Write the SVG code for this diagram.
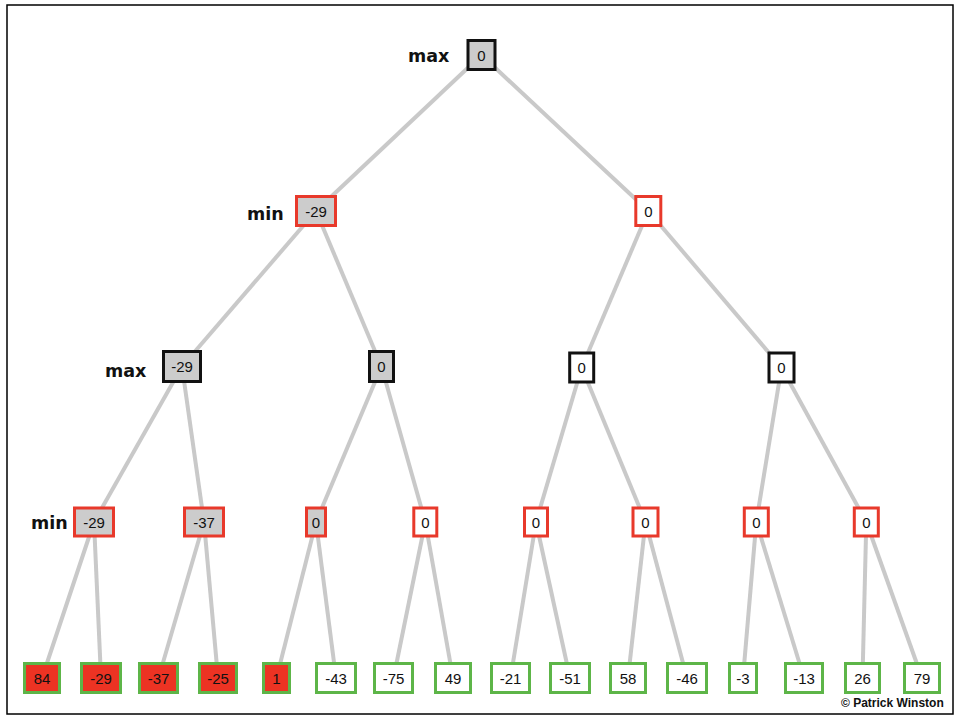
<svg xmlns="http://www.w3.org/2000/svg" width="960" height="720" viewBox="0 0 960 720">
<style>
.e{stroke:#c9c9c9;stroke-width:4;fill:none}
.n{stroke-width:3}
.bk{stroke:#111}
.rd{stroke:#e8392b}
.gn{stroke:#5db548}
.gf{fill:#cccccc}
.wf{fill:#ffffff}
.rf{fill:#ec3323}
.t{font-family:"Liberation Sans",Arial,sans-serif;font-size:15px;fill:#111;text-anchor:middle}
.lb{font-family:"DejaVu Sans",sans-serif;font-weight:bold;font-size:17.5px;fill:#111}
.cp{font-family:"Liberation Sans",Arial,sans-serif;font-weight:bold;font-size:12px;fill:#111}
</style>
<rect x="0" y="0" width="960" height="720" fill="#fff"/>
<rect x="7" y="5" width="946" height="709" fill="none" stroke="#000" stroke-width="1.5"/>
<g id="connectors">
<line class="e" x1="481.5" y1="55" x2="316" y2="211"/>
<line class="e" x1="481.5" y1="55" x2="648.3" y2="211"/>
<line class="e" x1="316" y1="211" x2="182" y2="366.5"/>
<line class="e" x1="316" y1="211" x2="381.5" y2="366.5"/>
<line class="e" x1="648.3" y1="211" x2="581.7" y2="367.5"/>
<line class="e" x1="648.3" y1="211" x2="781.5" y2="367.5"/>
<line class="e" x1="182" y1="366.5" x2="94" y2="522"/>
<line class="e" x1="182" y1="366.5" x2="204" y2="522"/>
<line class="e" x1="381.5" y1="366.5" x2="316" y2="522"/>
<line class="e" x1="381.5" y1="366.5" x2="425.3" y2="522"/>
<line class="e" x1="581.7" y1="367.5" x2="536" y2="522"/>
<line class="e" x1="581.7" y1="367.5" x2="645.5" y2="522"/>
<line class="e" x1="781.5" y1="367.5" x2="756.3" y2="522"/>
<line class="e" x1="781.5" y1="367.5" x2="866.3" y2="522"/>
<line class="e" x1="94" y1="522" x2="42" y2="678"/>
<line class="e" x1="94" y1="522" x2="101" y2="678"/>
<line class="e" x1="204" y1="522" x2="158.5" y2="678"/>
<line class="e" x1="204" y1="522" x2="218" y2="678"/>
<line class="e" x1="316" y1="522" x2="276.5" y2="678"/>
<line class="e" x1="316" y1="522" x2="336" y2="678"/>
<line class="e" x1="425.3" y1="522" x2="393.5" y2="678"/>
<line class="e" x1="425.3" y1="522" x2="453" y2="678"/>
<line class="e" x1="536" y1="522" x2="510.5" y2="678"/>
<line class="e" x1="536" y1="522" x2="570" y2="678"/>
<line class="e" x1="645.5" y1="522" x2="628" y2="678"/>
<line class="e" x1="645.5" y1="522" x2="687" y2="678"/>
<line class="e" x1="756.3" y1="522" x2="743" y2="678"/>
<line class="e" x1="756.3" y1="522" x2="804" y2="678"/>
<line class="e" x1="866.3" y1="522" x2="862.5" y2="678"/>
<line class="e" x1="866.3" y1="522" x2="922" y2="678"/>
</g>
<g id="labels">
<text class="lb" x="408" y="62">max</text>
<text class="lb" x="247" y="220">min</text>
<text class="lb" x="105" y="377">max</text>
<text class="lb" x="31" y="529">min</text>
</g>
<g id="root"><rect class="n bk gf" x="468" y="40.5" width="27" height="29"/><text class="t" x="481.5" y="60.5">0</text></g>
<g id="n1a"><rect class="n rd gf" x="296.5" y="196.5" width="39" height="29"/><text class="t" x="316" y="216.5">-29</text></g>
<g id="n1b"><rect class="n rd wf" x="635.8" y="196.5" width="25" height="29"/><text class="t" x="648.3" y="216.5">0</text></g>
<g id="n2a"><rect class="n bk gf" x="163.5" y="351.5" width="37" height="30"/><text class="t" x="182" y="372">-29</text></g>
<g id="n2b"><rect class="n bk gf" x="369.5" y="351.5" width="24" height="30"/><text class="t" x="381.5" y="372">0</text></g>
<g id="n2c"><rect class="n bk wf" x="569.7" y="353" width="24" height="29"/><text class="t" x="581.7" y="373">0</text></g>
<g id="n2d"><rect class="n bk wf" x="769" y="353" width="25" height="29"/><text class="t" x="781.5" y="373">0</text></g>
<g id="n3a"><rect class="n rd gf" x="74.5" y="508" width="39" height="28"/><text class="t" x="94" y="527.5">-29</text></g>
<g id="n3b"><rect class="n rd gf" x="184.5" y="508" width="39" height="28"/><text class="t" x="204" y="527.5">-37</text></g>
<g id="n3c"><rect class="n rd gf" x="306.5" y="508" width="19" height="28"/><text class="t" x="316" y="527.5">0</text></g>
<g id="n3d"><rect class="n rd wf" x="413.8" y="508" width="23" height="28"/><text class="t" x="425.3" y="527.5">0</text></g>
<g id="n3e"><rect class="n rd wf" x="524.5" y="508" width="23" height="28"/><text class="t" x="536" y="527.5">0</text></g>
<g id="n3f"><rect class="n rd wf" x="633" y="508" width="25" height="28"/><text class="t" x="645.5" y="527.5">0</text></g>
<g id="n3g"><rect class="n rd wf" x="744.3" y="508" width="24" height="28"/><text class="t" x="756.3" y="527.5">0</text></g>
<g id="n3h"><rect class="n rd wf" x="854.3" y="508" width="24" height="28"/><text class="t" x="866.3" y="527.5">0</text></g>
<g id="l1"><rect class="n gn rf" x="24.5" y="663.5" width="35" height="29"/><text class="t" x="42" y="683.5">84</text></g>
<g id="l2"><rect class="n gn rf" x="81.5" y="663.5" width="39" height="29"/><text class="t" x="101" y="683.5">-29</text></g>
<g id="l3"><rect class="n gn rf" x="139.5" y="663.5" width="38" height="29"/><text class="t" x="158.5" y="683.5">-37</text></g>
<g id="l4"><rect class="n gn rf" x="199.5" y="663.5" width="37" height="29"/><text class="t" x="218" y="683.5">-25</text></g>
<g id="l5"><rect class="n gn rf" x="263.5" y="663.5" width="26" height="29"/><text class="t" x="276.5" y="683.5">1</text></g>
<g id="l6"><rect class="n gn wf" x="316.5" y="663.5" width="39" height="29"/><text class="t" x="336" y="683.5">-43</text></g>
<g id="l7"><rect class="n gn wf" x="374.5" y="663.5" width="38" height="29"/><text class="t" x="393.5" y="683.5">-75</text></g>
<g id="l8"><rect class="n gn wf" x="435.5" y="663.5" width="35" height="29"/><text class="t" x="453" y="683.5">49</text></g>
<g id="l9"><rect class="n gn wf" x="491.5" y="663.5" width="38" height="29"/><text class="t" x="510.5" y="683.5">-21</text></g>
<g id="l10"><rect class="n gn wf" x="550.5" y="663.5" width="39" height="29"/><text class="t" x="570" y="683.5">-51</text></g>
<g id="l11"><rect class="n gn wf" x="610.5" y="663.5" width="35" height="29"/><text class="t" x="628" y="683.5">58</text></g>
<g id="l12"><rect class="n gn wf" x="667.5" y="663.5" width="39" height="29"/><text class="t" x="687" y="683.5">-46</text></g>
<g id="l13"><rect class="n gn wf" x="729.5" y="663.5" width="27" height="29"/><text class="t" x="743" y="683.5">-3</text></g>
<g id="l14"><rect class="n gn wf" x="785.5" y="663.5" width="37" height="29"/><text class="t" x="804" y="683.5">-13</text></g>
<g id="l15"><rect class="n gn wf" x="845.5" y="663.5" width="34" height="29"/><text class="t" x="862.5" y="683.5">26</text></g>
<g id="l16"><rect class="n gn wf" x="904.5" y="663.5" width="35" height="29"/><text class="t" x="922" y="683.5">79</text></g>
<text class="cp" x="841" y="707">© Patrick Winston</text>
</svg>
